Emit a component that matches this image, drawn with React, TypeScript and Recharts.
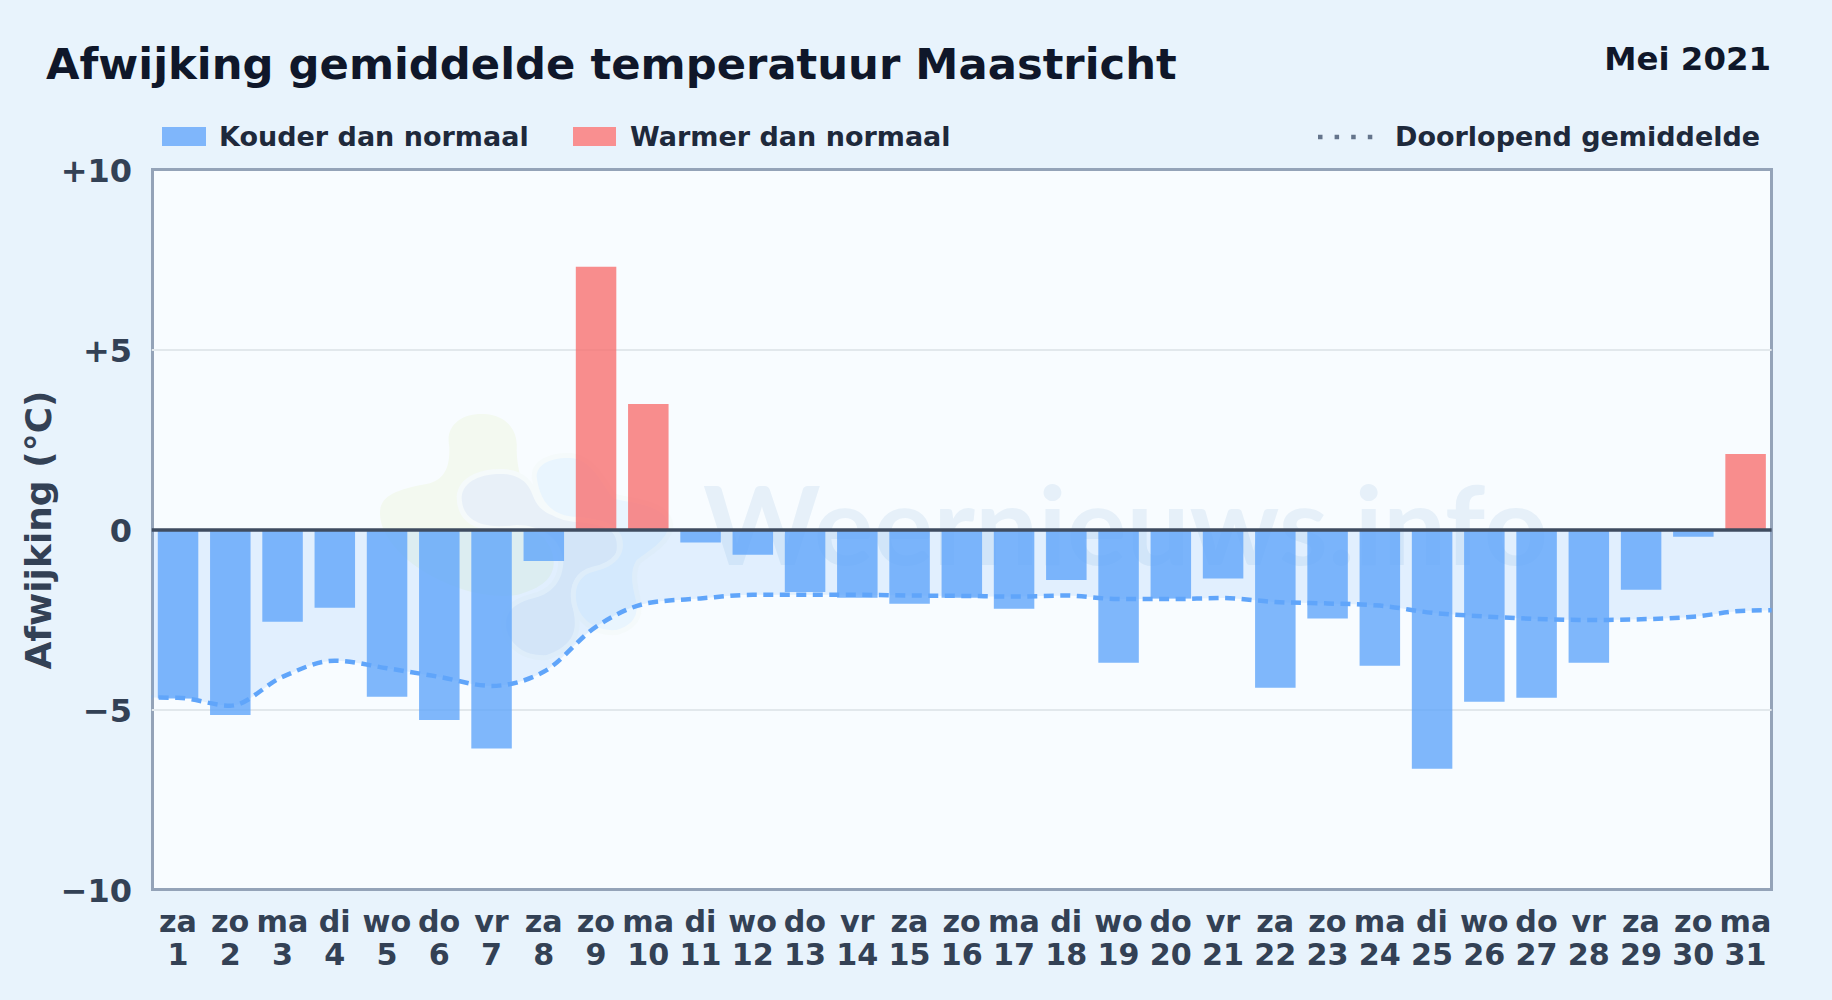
import React from "react";
import { ComposedChart, Area, Bar, Line, XAxis, YAxis, CartesianGrid, ReferenceLine } from "recharts";

const FONT = "'DejaVu Sans', sans-serif";
const weekdays = ["za","zo","ma","di","wo","do","vr","za","zo","ma","di","wo","do","vr","za","zo","ma","di","wo","do","vr","za","zo","ma","di","wo","do","vr","za","zo","ma"];
const days = [1,2,3,4,5,6,7,8,9,10,11,12,13,14,15,16,17,18,19,20,21,22,23,24,25,26,27,28,29,30,31];
const deviations = [-4.68,-5.14,-2.55,-2.16,-4.63,-5.28,-6.07,-0.86,7.31,3.5,-0.35,-0.69,-1.72,-1.88,-2.05,-1.88,-2.19,-1.39,-3.69,-1.9,-1.35,-4.38,-2.46,-3.77,-6.63,-4.77,-4.66,-3.69,-1.66,-0.19,2.11];
const runningAverage = [-4.66,-4.88,-4.08,-3.63,-3.84,-4.08,-4.33,-3.94,-2.69,-2.03,-1.9,-1.8,-1.8,-1.8,-1.82,-1.83,-1.85,-1.82,-1.92,-1.92,-1.89,-2.0,-2.04,-2.1,-2.3,-2.4,-2.47,-2.5,-2.48,-2.41,-2.24];
const edgeStart = { x: 0, avg: -4.65 };
const edgeEnd = { x: 32, avg: -2.22 };
const yTicks = [-10, -5, 0, 5, 10];
const yLabels: Record<string, string> = { "-10": "−10", "-5": "−5", "0": "0", "5": "+5", "10": "+10" };

const rows = [
  edgeStart,
  ...days.map((d, i) => ({
    x: d,
    cold: deviations[i] < 0 ? deviations[i] : undefined,
    warm: deviations[i] >= 0 ? deviations[i] : undefined,
    avg: runningAverage[i],
  })),
  edgeEnd,
];

const XTick = (props: any) => {
  const { x, payload } = props;
  const i = days.indexOf(payload.value);
  return (
    <g fontFamily={FONT} fontWeight={700} fontSize={30.2} fill="#334155" textAnchor="middle">
      <text x={x} y={932}>{weekdays[i]}</text>
      <text x={x} y={965}>{days[i]}</text>
    </g>
  );
};

const YTick = (props: any) => {
  const { y, payload } = props;
  return (
    <text x={132} y={y + 11.5} fontFamily={FONT} fontWeight={700} fontSize={32} fill="#334155" textAnchor="end">
      {yLabels[String(payload.value)]}
    </text>
  );
};

const abs = (o: React.CSSProperties): React.CSSProperties => ({ position: "absolute", whiteSpace: "nowrap", fontFamily: FONT, fontWeight: 700, lineHeight: 1, ...o });

export default function App() {
  return (
    <div style={{ position: "absolute", left: 0, top: 0, width: 1832, height: 1000, overflow: "hidden", background: "#e8f3fc" }}>
      <div style={{ position: "absolute", left: 151, top: 168, width: 1622, height: 723, boxSizing: "border-box", border: "3px solid #94a3b8", background: "#f8fcff" }} />
      <svg width={1832} height={1000} style={{ position: "absolute", left: 0, top: 0 }}>
        <g transform="translate(360 390) scale(0.33333)">
          <path fill="#f3f9f0" d="M60,370 C60,320 100,300 210,280 C255,265 270,230 268,170 C255,110 300,70 370,72 C440,75 475,120 470,180 C470,260 520,400 570,470 C600,540 570,590 470,615 C300,640 60,500 60,370Z" />
          <path fill="#e8f0f8" stroke="#f5fafb" strokeWidth={30} paintOrder="stroke" d="M305,320 C310,270 370,250 430,252 C490,255 510,290 520,320 C535,360 570,385 640,385 C720,390 770,420 770,460 C775,510 740,530 690,535 C640,550 630,590 635,640 C650,700 660,760 560,795 C500,800 455,770 440,720 C430,670 460,640 520,625 C580,610 610,570 610,510 C600,440 540,405 470,405 C400,415 305,410 305,320Z" />
          <path fill="#e9f5fe" stroke="#f5fafb" strokeWidth={30} paintOrder="stroke" d="M530,260 C530,220 580,200 640,205 C700,215 730,290 760,325 C800,340 925,340 925,410 C920,450 870,480 830,510 C810,540 815,580 825,620 C835,660 835,700 770,720 C710,725 660,690 650,640 C640,590 660,555 700,545 C770,530 800,490 785,440 C770,400 720,385 640,380 C580,375 540,340 530,260Z" />
        </g>
        <text x={703} y={565} fontFamily="Lato, sans-serif" fontWeight={700} fontSize={109} fill="#e6f0f9" textLength={845} lengthAdjust="spacingAndGlyphs">Weernieuws.info</text>
      </svg>
      <div style={{ position: "absolute", left: 0, top: 0 }}>
        <ComposedChart width={1832} height={1000} data={rows} margin={{ top: 170, right: 60.4, bottom: 50, left: 91.8 }}>
          <CartesianGrid horizontal vertical={false} stroke="#e2e8ec" strokeWidth={2} horizontalValues={[-5, 5]} />
          <XAxis dataKey="x" type="number" domain={[0.5, 31.5]} ticks={days} interval={0} tick={<XTick />} tickLine={false} axisLine={false} height={60} allowDataOverflow />
          <YAxis type="number" domain={[-10, 10]} ticks={yTicks} interval={0} tick={<YTick />} tickLine={false} axisLine={false} width={60} />
          <Area dataKey="avg" type="monotone" stroke="none" fill="#60a5fa" fillOpacity={0.15} isAnimationActive={false} connectNulls />
          <Bar dataKey="cold" stackId="d" barSize={40.5} fill="#60a5fa" fillOpacity={0.8} isAnimationActive={false} />
          <Bar dataKey="warm" stackId="d" barSize={40.5} fill="#f87171" fillOpacity={0.8} isAnimationActive={false} />
          <Line dataKey="avg" type="monotone" stroke="#60a5fa" strokeWidth={4.5} strokeDasharray="10 6.5" dot={false} isAnimationActive={false} connectNulls />
          <ReferenceLine y={0} stroke="#3f4c60" strokeWidth={3.5} />
        </ComposedChart>
      </div>
      <div style={abs({ left: 46, top: 43, fontSize: 43.3, color: "#0f172a" })}>Afwijking gemiddelde temperatuur Maastricht</div>
      <div style={abs({ right: 61, top: 43, fontSize: 32.4, color: "#0f172a" })}>Mei 2021</div>
      <div style={abs({ left: 162, top: 127, width: 44, height: 19, background: "#7fb6fb" })} />
      <div style={abs({ left: 219, top: 123, fontSize: 27, color: "#1e293b" })}>Kouder dan normaal</div>
      <div style={abs({ left: 573, top: 127, width: 43, height: 19, background: "#f98f90" })} />
      <div style={abs({ left: 630, top: 123, fontSize: 27, color: "#1e293b" })}>Warmer dan normaal</div>
      <svg width={60} height={10} style={{ position: "absolute", left: 1316, top: 132 }}>
        <line x1={2} y1={5} x2={58} y2={5} stroke="#64748b" strokeWidth={4.5} strokeDasharray="4.5 12.1" />
      </svg>
      <div style={abs({ left: 1395, top: 123, fontSize: 27, color: "#1e293b" })}>Doorlopend gemiddelde</div>
      <svg width={80} height={400} style={{ position: "absolute", left: 0, top: 330 }}>
        <text transform="translate(51 200) rotate(-90)" textAnchor="middle" fontFamily={FONT} fontWeight={700} fontSize={36} fill="#334155">Afwijking (°C)</text>
      </svg>
    </div>
  );
}
